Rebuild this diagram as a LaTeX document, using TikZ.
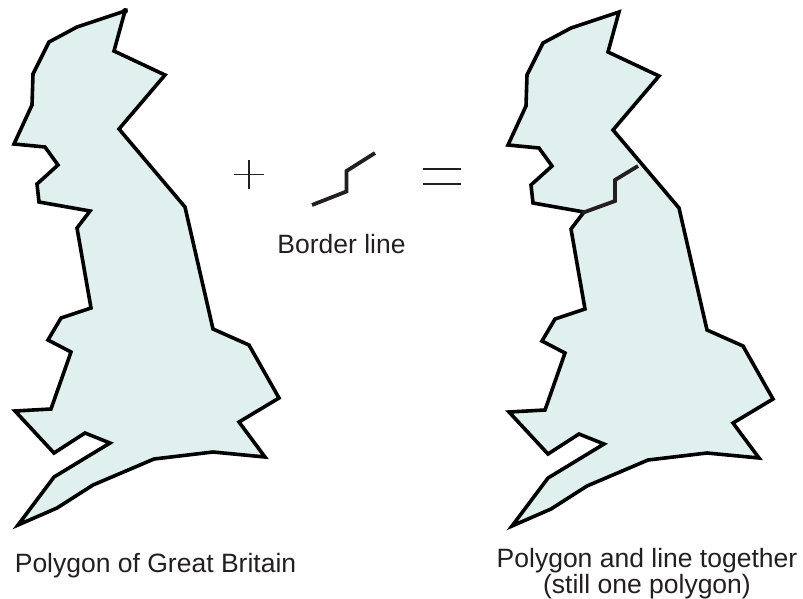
\documentclass[tikz,border=0pt]{standalone}
\usepackage{fontspec}
\setmainfont{Liberation Sans}
\definecolor{landfill}{HTML}{E0F0EE}
\definecolor{ink}{HTML}{231F20}
\tikzset{
  land/.style={fill=landfill,draw=black,line width=3.6pt,line join=miter,miter limit=4},
  border/.style={draw=ink,line width=3.8pt,line join=miter},
  symbol/.style={draw=ink,line width=1.5pt},
  caption/.style={text=ink,font=\fontsize{26.5}{26.4}\selectfont,align=center,inner sep=0pt,anchor=base}
}
\newcommand{\britain}{(125,11) -- (114,51) -- (165,75) -- (119,129) -- (185,207) -- (213,329) -- (249,345) -- (279,398) -- (239,422) -- (265,457) -- (213,452) -- (154,459) -- (93,485) -- (57,508) -- (18,525) -- (54,477) -- (110,443) -- (85,433) -- (54,453) -- (15,411) -- (51,409) -- (71,352) -- (48,340) -- (61,318) -- (91,308) -- (77,228) -- (90,211) -- (39,202) -- (37,184) -- (58,165) -- (45,147) -- (14,144) -- (32,105) -- (33,74) -- (49,42) -- (77,27) -- cycle}
\begin{document}
\begin{tikzpicture}[x=1pt,y=-1pt]
\useasboundingbox (0,0) rectangle (803,599);
\path[land] \britain;
\fill[black] (125,11) circle (3);
\begin{scope}[shift={(494,1)}]
\path[land] \britain;
\end{scope}
\draw[border] (582,213) -- (615,201) -- (615,180) -- (638,166);
\draw[border] (312,205) -- (346.5,191.5) -- (346.5,171) -- (375,153);
\draw[symbol] (234,174.3) -- (264,174.3) (249,160) -- (249,189);
\draw[symbol] (423,169) -- (461,169) (423,184) -- (461,184);
\node[caption] (borderlabel) at (341.5,253.2) {Border line};
\node[caption] (leftlabel) at (155.5,572.5) {Polygon of Great Britain};
\node[caption] (rightlabel) at (647,593.5) {Polygon and line together\\(still one polygon)};
\end{tikzpicture}
\end{document}
